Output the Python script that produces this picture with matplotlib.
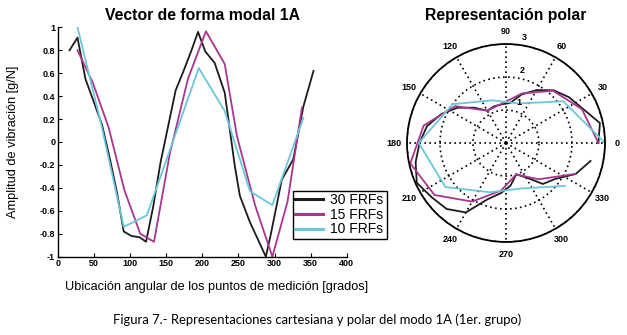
import numpy as np
import matplotlib
matplotlib.use("Agg")
import matplotlib.pyplot as plt

plt.rcParams['font.family'] = ['Liberation Sans', 'DejaVu Sans']

# ---- data ----
x30 = [16, 27, 38, 49, 61, 72, 82, 91, 102, 113, 122, 132, 142, 153, 163,
       174, 185, 194, 204, 217, 231, 245, 252, 266, 288, 295, 310, 326, 340, 354]
y30 = [0.80, 0.91, 0.55, 0.36, 0.15, -0.15, -0.45, -0.78, -0.82, -0.83, -0.87, -0.56, -0.18, 0.15, 0.45,
       0.62, 0.80, 0.96, 0.79, 0.69, 0.43, -0.21, -0.47, -0.70, -1.00, -0.80, -0.33, -0.15, 0.31, 0.62]

x15 = [27, 48, 70, 92, 114, 133, 155, 180, 205, 231, 248, 273, 297, 318, 338]
y15 = [0.80, 0.52, 0.13, -0.42, -0.80, -0.87, -0.10, 0.55, 0.965, 0.68, 0.05, -0.55, -1.00, -0.52, 0.30]

x10 = [27, 60, 91, 123, 159, 195, 231, 266, 297, 340]
y10 = [1.00, 0.15, -0.74, -0.64, 0.00, 0.645, 0.27, -0.43, -0.55, 0.21]

labels = ['30 FRFs', '15 FRFs', '10 FRFs']
colors = ['#1c1c1c', '#a8368e', '#6cc6da']

xticks = [0, 50, 100, 150, 200, 250, 300, 350, 400]
yticks = [-1, -0.8, -0.6, -0.4, -0.2, 0, 0.2, 0.4, 0.6, 0.8, 1]
polar_angles = [0, 30, 60, 90, 120, 150, 180, 210, 240, 270, 300, 330]
r_offset = 2

W, H = 627, 335
fig = plt.figure(figsize=(W / 100, H / 100), dpi=100)

# ---- cartesian axes ----
ax = fig.add_axes([58 / W, 1 - 256.7 / H, 288.7 / W, 229.4 / H])
series = [(x30, y30), (x15, y15), (x10, y10)]
handles = []
for (xs, ys), c, lab in zip(series, colors, labels):
    h, = ax.plot(xs, ys, color=c, lw=1.3, label=lab)
    handles.append(h)
ax.set_xlim(0, 400)
ax.set_ylim(-1, 1)
ax.set_xticks(xticks)
ax.set_yticks(yticks)
ax.set_xticklabels([str(t) for t in xticks])
ax.set_yticklabels(['-1' if t == -1 else ('1' if t == 1 else ('0' if t == 0 else f'{t:g}')) for t in yticks])
ax.tick_params(direction='in', length=3, width=0.8, labelsize=6.5, pad=2)
for lbl in ax.get_xticklabels() + ax.get_yticklabels():
    lbl.set_fontweight('bold')
ax.spines['top'].set_visible(False)
ax.spines['right'].set_visible(False)
for s in ['left', 'bottom']:
    ax.spines[s].set_linewidth(1.0)
ax.set_title('Vector de forma modal 1A', fontsize=11.3, fontweight='bold', pad=5)
ax.set_ylabel('Amplitud de vibración [g/N]', fontsize=9.2)
ax.yaxis.set_label_coords(-0.135, 0.5)
ax.set_xlabel('Ubicación angular de los puntos de medición [grados]', fontsize=9.2)
ax.xaxis.set_label_coords(0.549, -0.105)

# ---- polar axes ----
R = 99
pax = fig.add_axes([(506 - R) / W, 1 - (143 + R) / H, 2 * R / W, 2 * R / H], projection='polar')
for (xs, ys), c in zip(series, colors):
    n = len(ys)
    th = np.deg2rad(np.arange(n) * 360.0 / n)
    pax.plot(th, np.array(ys) + r_offset, color=c, lw=1.3)
pax.set_ylim(0, 3)
pax.set_yticks([1, 2, 3])
pax.set_yticklabels([])
pax.set_xticks(np.deg2rad(polar_angles))
pax.set_xticklabels([])
pax.grid(True, color='black', linestyle=(0, (1, 2.0)), lw=1.2)
pax.spines['polar'].set_linewidth(1.3)
for a in polar_angles:
    pax.text(np.deg2rad(a), 3.38, str(a), ha='center', va='center', fontsize=6.5,
             fontweight='bold', clip_on=False)
for r, (ang, rr) in zip([1, 2, 3], [(72, 1.28), (77, 2.25), (80, 3.25)]):
    pax.text(np.deg2rad(ang), rr, str(r), ha='center', va='center', fontsize=6.5,
             fontweight='bold', clip_on=False)
pax.set_title('Representación polar', fontsize=11.3, fontweight='bold', pad=17.5)

# ---- legend ----
leg = fig.legend(handles=handles, labels=labels, loc='lower left',
                 bbox_to_anchor=(293 / W, 1 - 238.5 / H, 94 / W, 39.5 / H),
                 bbox_transform=fig.transFigure, mode='expand', borderaxespad=0,
                 fontsize=10, frameon=True, fancybox=False, framealpha=1,
                 edgecolor='black', handlelength=2.0, handletextpad=0.5,
                 labelspacing=0.05, borderpad=0.15, handleheight=0.6)
leg.get_frame().set_linewidth(1.0)
for l in leg.get_lines():
    l.set_linewidth(2.2)

# ---- caption ----
fig.text(317 / W, 1 - 320 / H,
         'Figura 7.- Representaciones cartesiana y polar del modo 1A (1er. grupo)',
         ha='center', va='center', fontsize=9.4, family=['Lato', 'DejaVu Sans'])

fig.savefig('out.png', dpi=100)
